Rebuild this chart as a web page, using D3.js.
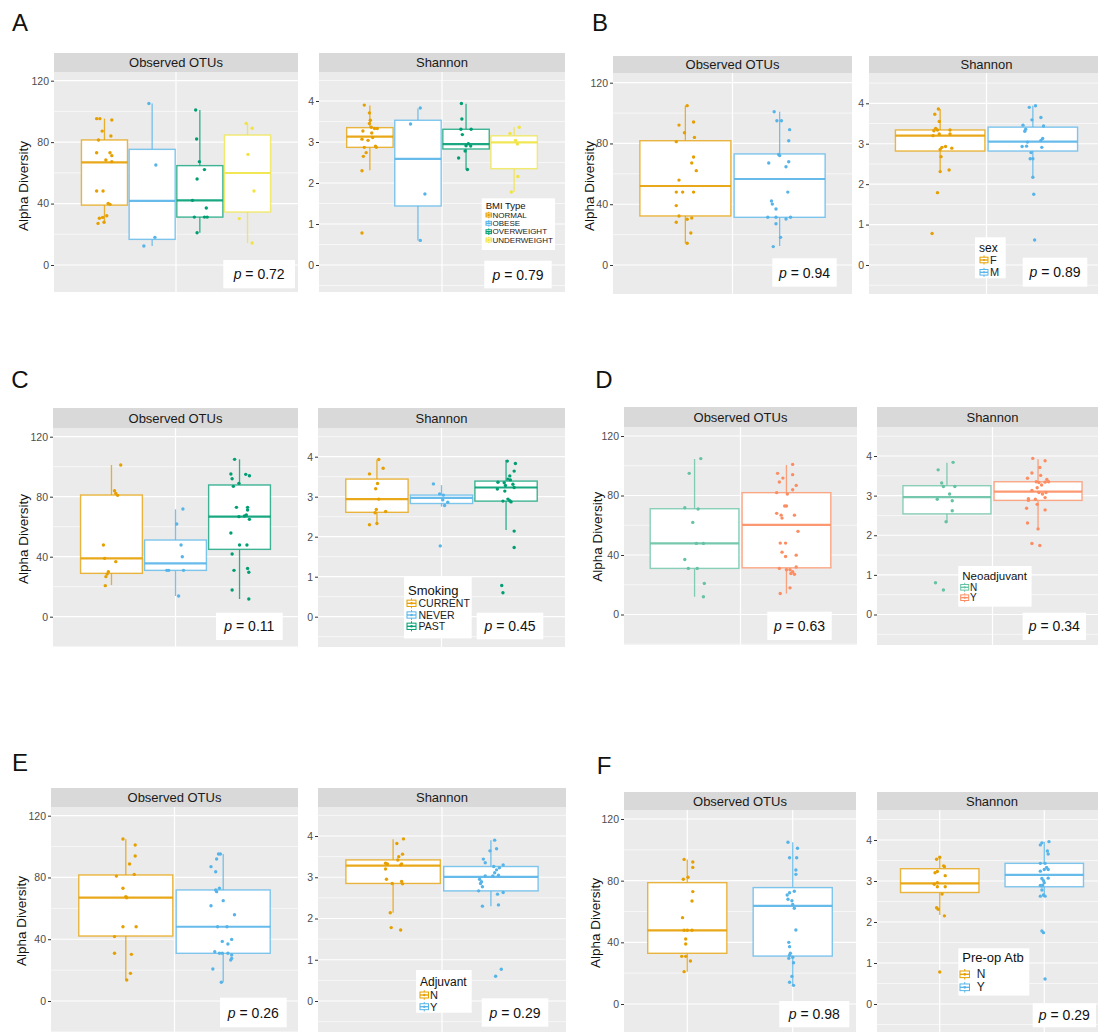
<!DOCTYPE html>
<html>
<head>
<meta charset="utf-8">
<script src="https://cdn.jsdelivr.net/npm/d3@7"></script>
<style>
  body { margin: 0; background: #fff; }
  svg { display: block; font-family: "Liberation Sans", Arial, sans-serif; }
</style>
</head>
<body>
<svg id="chart" width="1098" height="1032"></svg>
<script>
// ---------------- data ----------------
const metricNames = ["Observed OTUs", "Shannon"];
const otuTicks = [0, 40, 80, 120];
const otuMinor = [-20, 20, 60, 100];
const shannonTicks = [0, 1, 2, 3, 4];
const shannonMinor = [-0.5, 0.5, 1.5, 2.5, 3.5, 4.5];

// box stats: [lower whisker, Q1, median, Q3, upper whisker]
// points: [value, horizontal jitter as a fraction of box width]

// A: BMI type
const bmiGroups = ["NORMAL", "OBESE", "OVERWEIGHT", "UNDERWEIGHT"];
const bmiColors = ["#E69F00", "#56B4E9", "#009E73", "#F0E442"];
const bmiOtuBox = [[27.1, 39.0, 66.8, 81.4, 95.3], [12.4, 16.7, 41.7, 75.3, 105.2], [21.0, 31.2, 42.1, 64.7, 100.9], [14.3, 34.5, 59.9, 84.6, 92.2]];
const bmiShannonBox = [[2.31, 2.87, 3.13, 3.35, 3.89], [0.60, 1.44, 2.59, 3.53, 3.82], [2.33, 2.83, 2.95, 3.31, 3.93], [1.78, 2.35, 2.99, 3.15, 3.36]];
const bmiOtuPoints = [
  [[95.3,-0.17],[95.3,-0.10],[94.4,0.16],[87.2,-0.05],[84.0,0.14],[81.4,-0.13],[73.1,-0.17],[73.1,0.12],[71.2,0.16],[68.4,0.03],[67.3,0.16],[48.2,-0.17],[48.2,-0.03],[40.1,0.08],[39.5,0.12],[32.1,0.05],[31.0,-0.04],[30.4,-0.11],[27.8,-0.01],[27.1,-0.14]],
  [[105.2,-0.07],[65.1,0.08],[18.0,0.06],[12.4,-0.18]],
  [[100.9,-0.09],[82.0,-0.07],[67.3,-0.01],[62.1,0.10],[56.0,-0.06],[42.1,-0.16],[37.1,0.14],[31.2,-0.12],[31.2,0.10],[31.2,0.16],[21.0,-0.06]],
  [[92.2,-0.03],[89.0,0.10],[72.0,0.01],[48.2,0.14],[30.2,-0.18],[14.3,0.10]]
];
const bmiShannonPoints = [
  [[3.90,-0.12],[3.71,-0.01],[3.53,0.01],[3.45,-0.01],[3.36,0.03],[3.33,0.10],[3.33,0.16],[3.27,-0.15],[3.22,0.04],[3.11,0.06],[3.07,-0.17],[3.04,-0.04],[2.87,-0.12],[2.90,0.12],[2.87,0.14],[2.74,-0.08],[2.65,-0.14],[2.30,-0.17],[0.78,-0.17]],
  [[3.83,0.05],[3.44,-0.16],[1.73,0.15],[0.60,0.05]],
  [[3.94,-0.10],[3.56,-0.09],[3.31,-0.11],[3.31,0.11],[3.18,-0.08],[2.96,0.05],[2.91,0.00],[2.90,0.10],[2.78,-0.02],[2.61,-0.16],[2.33,0.03]],
  [[3.36,0.11],[3.21,-0.09],[3.04,0.03],[2.95,0.07],[2.16,0.08],[1.78,-0.06]]
];
const bmiP = ["0.72", "0.79"];

// B: sex
const sexGroups = ["F", "M"];
const sexColors = ["#E69F00", "#56B4E9"];
const sexOtuBox = [[14.3, 32.3, 52.0, 81.8, 104.9], [12.5, 31.4, 56.6, 73.1, 100.9]];
const sexShannonBox = [[2.31, 2.82, 3.20, 3.34, 3.86], [2.17, 2.82, 3.05, 3.41, 3.94]];
const sexOtuPoints = [
  [[104.9,0.02],[92.1,-0.07],[94.1,0.09],[87.1,-0.01],[84.0,0.10],[81.2,-0.10],[71.1,0.09],[67.1,0.07],[62.1,0.12],[55.9,-0.07],[48.0,-0.10],[48.0,-0.03],[48.0,0.09],[39.1,-0.10],[32.3,-0.07],[30.9,0.07],[30.1,0.02],[28.1,-0.10],[21.1,0.06],[14.3,0.02]],
  [[100.9,-0.06],[95.0,-0.03],[95.0,0.02],[89.1,0.11],[81.8,0.10],[72.8,-0.01],[72.0,0.00],[67.1,-0.12],[68.0,0.10],[64.7,0.07],[48.0,0.09],[42.1,-0.09],[40.1,-0.08],[36.9,-0.04],[31.4,-0.13],[31.4,-0.04],[31.4,0.12],[30.3,0.07],[27.2,-0.04],[18.2,0.01],[12.1,-0.07]]
];
const sexShannonPoints = [
  [[3.86,-0.02],[3.73,-0.06],[3.55,-0.01],[3.38,-0.05],[3.34,-0.03],[3.32,-0.07],[3.34,0.11],[3.24,-0.01],[3.20,-0.08],[3.24,0.11],[2.91,0.02],[2.93,0.06],[2.86,0.00],[2.89,0.13],[2.68,0.01],[2.31,0.00],[2.35,0.10],[1.79,-0.03],[0.78,-0.09]],
  [[3.90,-0.04],[3.94,0.03],[3.59,-0.01],[3.65,0.09],[3.46,-0.11],[3.44,0.12],[3.36,-0.08],[3.31,-0.09],[3.13,0.11],[3.08,0.09],[3.04,-0.06],[2.93,-0.12],[2.94,-0.07],[2.91,0.10],[2.78,-0.02],[2.63,0.00],[2.63,-0.03],[2.17,0.00],[1.75,0.01],[0.62,0.02]]
];
const sexP = ["0.94", "0.89"];

// C: smoking
const smokingGroups = ["CURRENT", "NEVER", "PAST"];
const smokingColors = ["#E69F00", "#56B4E9", "#009E73"];
const smokingOtuBox = [[21.1, 28.9, 38.9, 81.1, 101.1], [13.8, 30.9, 35.6, 51.1, 71.6], [11.8, 44.9, 66.7, 87.8, 104.9]];
const smokingShannonBox = [[2.32, 2.61, 2.94, 3.44, 3.93], [2.75, 2.83, 2.97, 3.04, 3.29], [2.17, 2.89, 3.23, 3.39, 3.92]];
const smokingOtuPoints = [
  [[101.1,0.15],[84.0,0.05],[82.2,0.07],[80.9,0.10],[47.8,-0.13],[38.9,-0.11],[36.7,0.07],[30.0,-0.05],[28.4,-0.07],[26.7,-0.09],[20.7,-0.10]],
  [[71.8,0.12],[61.8,0.02],[47.8,0.09],[40.0,0.11],[30.9,-0.14],[30.9,-0.11],[30.9,0.13],[13.8,0.05]],
  [[104.9,-0.08],[95.1,-0.14],[94.9,0.10],[94.0,0.16],[92.0,-0.12],[88.9,-0.01],[86.9,-0.10],[72.9,-0.05],[72.9,0.13],[71.1,0.13],[66.7,-0.01],[67.8,0.11],[67.1,0.08],[64.9,0.16],[55.8,-0.14],[47.8,0.00],[47.8,0.12],[41.8,-0.12],[32.2,0.13],[30.9,-0.09],[29.6,0.15],[17.8,-0.12],[11.8,0.15]]
];
const smokingShannonPoints = [
  [[3.93,0.03],[3.71,0.10],[3.57,-0.12],[3.33,0.01],[3.20,-0.02],[2.94,0.03],[2.68,-0.01],[2.60,-0.03],[2.63,0.14],[2.33,0.00],[2.30,-0.12]],
  [[3.32,-0.13],[3.07,-0.03],[3.04,0.03],[2.92,0.02],[2.86,0.10],[2.78,0.05],[1.77,-0.02]],
  [[3.89,0.02],[3.83,0.15],[3.64,0.13],[3.52,0.06],[3.44,0.03],[3.42,0.07],[3.36,-0.13],[3.35,-0.03],[3.31,0.11],[3.28,-0.01],[3.23,0.13],[3.19,-0.14],[3.14,-0.02],[2.89,-0.05],[2.94,0.03],[2.90,0.06],[2.87,0.08],[2.14,0.13],[1.73,0.13],[0.78,-0.07],[0.60,-0.05]]
];
const smokingP = ["0.11", "0.45"];

// D: neoadjuvant
const neoGroups = ["N", "Y"];
const neoColors = ["#66C2A5", "#FC8D62"];
const neoOtuBox = [[11.9, 31.0, 47.8, 71.1, 104.5], [14.1, 31.4, 60.3, 81.9, 100.5]];
const neoShannonBox = [[2.32, 2.54, 2.96, 3.25, 3.83], [2.16, 2.88, 3.10, 3.35, 3.92]];
const neoOtuPoints = [
  [[104.8,0.07],[94.9,-0.06],[71.8,-0.11],[70.9,0.04],[61.9,-0.02],[47.8,0.02],[47.8,0.10],[37.0,-0.11],[31.0,-0.07],[31.0,0.03],[20.9,0.11],[11.9,0.10]],
  [[100.9,0.07],[94.9,-0.10],[94.0,0.07],[91.7,-0.04],[86.8,0.11],[89.1,-0.08],[83.9,0.07],[81.9,-0.11],[81.0,0.01],[72.9,-0.02],[72.9,0.00],[68.0,-0.11],[66.8,-0.06],[64.8,-0.05],[66.8,0.09],[55.9,0.13],[48.0,-0.07],[48.0,-0.01],[41.9,-0.05],[39.0,-0.01],[39.9,0.11],[31.0,-0.08],[30.1,0.00],[31.9,0.11],[30.1,0.04],[28.7,0.07],[27.6,0.05],[27.1,0.09],[17.9,0.04],[14.1,-0.07]]
];
const neoShannonPoints = [
  [[3.84,0.07],[3.65,-0.10],[3.32,-0.06],[3.23,-0.04],[3.23,0.09],[3.04,0.03],[2.91,-0.11],[2.87,0.06],[2.62,0.06],[2.34,-0.01],[0.80,-0.13],[0.62,-0.04]],
  [[3.94,-0.06],[3.88,0.08],[3.71,0.02],[3.57,-0.07],[3.51,0.03],[3.44,-0.12],[3.41,0.10],[3.35,-0.02],[3.33,0.01],[3.34,0.08],[3.35,0.12],[3.27,0.04],[3.20,-0.01],[3.13,-0.07],[3.08,0.01],[3.08,0.09],[3.04,0.05],[2.95,0.08],[2.92,-0.11],[2.88,-0.11],[2.91,-0.03],[2.78,-0.01],[2.68,-0.13],[2.64,0.08],[2.31,-0.12],[2.16,0.00],[1.79,-0.07],[1.74,0.02]]
];
const neoP = ["0.63", "0.34"];

// E: adjuvant
const adjGroups = ["N", "Y"];
const adjColors = ["#E69F00", "#56B4E9"];
const adjOtuBox = [[13.6, 42.1, 66.9, 81.6, 104.7], [12.1, 30.9, 48.1, 71.9, 95.2]];
const adjShannonBox = [[2.14, 2.85, 3.28, 3.42, 3.92], [2.30, 2.67, 3.01, 3.26, 3.90]];
const adjOtuPoints = [
  [[104.9,-0.03],[101.0,0.10],[93.9,0.10],[88.7,0.04],[82.0,0.09],[80.9,-0.10],[73.0,-0.03],[67.6,0.00],[66.9,0.01],[48.1,-0.03],[48.1,0.11],[41.7,-0.12],[30.9,-0.12],[30.2,0.06],[17.9,0.05],[13.6,0.01]],
  [[95.2,-0.05],[95.2,-0.03],[92.0,-0.07],[87.0,-0.13],[83.7,-0.08],[73.0,-0.04],[71.9,-0.08],[70.8,-0.07],[65.0,0.00],[61.7,-0.13],[55.9,0.12],[48.1,-0.06],[48.1,0.04],[39.9,0.09],[38.6,-0.01],[36.9,0.05],[31.9,-0.09],[30.9,-0.04],[30.9,-0.01],[30.9,0.05],[29.8,0.09],[27.6,0.09],[26.5,0.08],[20.7,-0.11],[12.1,-0.02]]
];
const adjShannonPoints = [
  [[3.93,0.11],[3.82,0.04],[3.56,0.10],[3.50,0.06],[3.42,0.05],[3.34,-0.08],[3.32,-0.06],[3.30,0.08],[3.32,0.09],[3.20,-0.08],[2.95,-0.07],[2.90,0.09],[2.85,-0.01],[2.84,0.10],[2.14,-0.03],[1.78,-0.02],[1.72,0.08]],
  [[3.90,0.04],[3.69,0.06],[3.64,-0.01],[3.44,-0.08],[3.35,-0.06],[3.30,0.13],[3.26,0.03],[3.23,0.09],[3.18,0.06],[3.11,0.04],[3.03,-0.06],[3.03,0.02],[3.05,0.08],[2.95,-0.12],[2.89,-0.10],[2.85,-0.11],[2.77,-0.09],[2.67,-0.13],[2.63,0.13],[2.59,0.07],[2.33,0.08],[2.30,-0.09],[0.77,0.11],[0.60,0.05]]
];
const adjP = ["0.26", "0.29"];

// F: pre-operative antibiotics
const atbGroups = ["N", "Y"];
const atbColors = ["#E69F00", "#56B4E9"];
const atbOtuBox = [[21.0, 32.9, 47.8, 78.7, 93.8], [12.3, 31.1, 63.6, 75.5, 104.9]];
const atbShannonBox = [[2.17, 2.72, 2.94, 3.30, 3.58], [2.62, 2.86, 3.15, 3.43, 3.96]];
const atbOtuPoints = [
  [[93.8,-0.04],[92.1,0.07],[88.6,0.07],[80.9,-0.05],[82.2,0.01],[72.9,0.07],[66.8,0.06],[56.0,-0.06],[47.8,-0.04],[47.8,0.06],[47.8,0.00],[42.2,-0.02],[38.9,-0.02],[30.9,-0.07],[30.9,-0.02],[27.9,0.04],[21.0,-0.04]],
  [[104.9,-0.06],[101.0,0.06],[94.9,-0.04],[94.9,0.05],[86.9,0.04],[84.1,0.04],[73.1,0.02],[72.2,-0.04],[70.7,-0.07],[67.9,-0.06],[67.0,-0.01],[64.6,0.00],[62.1,0.02],[48.0,0.04],[40.0,-0.05],[37.2,-0.04],[32.9,-0.03],[31.6,-0.04],[30.3,0.00],[29.6,-0.05],[26.8,0.01],[17.9,-0.01],[14.1,-0.04],[12.1,0.01]]
];
const atbShannonPoints = [
  [[3.58,0.00],[3.53,-0.04],[3.35,0.06],[3.37,0.05],[3.20,-0.06],[3.23,-0.03],[3.13,0.07],[2.96,-0.03],[2.92,-0.07],[2.86,-0.03],[2.86,0.07],[2.68,0.03],[2.35,-0.04],[2.31,-0.02],[2.15,0.06],[0.78,0.00]],
  [[3.96,0.06],[3.88,-0.05],[3.93,-0.03],[3.73,0.04],[3.66,0.05],[3.43,-0.05],[3.43,0.01],[3.33,0.03],[3.28,0.05],[3.28,0.00],[3.24,-0.05],[3.07,0.05],[3.06,-0.03],[3.01,-0.01],[2.96,0.00],[2.90,-0.02],[2.88,-0.03],[2.89,-0.05],[2.78,-0.03],[2.66,-0.01],[2.63,-0.05],[2.63,0.01],[1.78,-0.03],[1.74,-0.01],[0.61,0.01]]
];
const atbP = ["0.98", "0.29"];

// ---------------- layout ----------------
const panels = [
  { letter: "A", letterPos: [20, 22], legendTitle: "BMI Type",
    groups: bmiGroups, colors: bmiColors, dodge: true,
    boxes: [bmiOtuBox, bmiShannonBox], points: [bmiOtuPoints, bmiShannonPoints], p: bmiP,
    stripTop: 53, plotTop: 72, bottom: 292, zero: 265, topTick: [80.7, 101],
    facets: [[54, 298], [319, 565]], yTitle: [23.5, 186],
    legend: { x: 481.7, y: 198.3, w: 73.3, h: 51.7, titleSize: 9.5, titleY: 205, size: 8, rows: [215, 223.3, 231.7, 240], keyX: 486, keySize: 5.5, textX: 492.5 },
    pBoxes: [[223.3, 260, 71.7, 28.3], [484.3, 260.7, 67.4, 27.6]] },
  { letter: "B", letterPos: [600, 22], legendTitle: "sex",
    groups: sexGroups, colors: sexColors, dodge: true,
    boxes: [sexOtuBox, sexShannonBox], points: [sexOtuPoints, sexShannonPoints], p: sexP,
    stripTop: 56, plotTop: 73, bottom: 294, zero: 265, topTick: [82.7, 103.3],
    facets: [[613, 852], [869, 1104]], yTitle: [589, 186],
    legend: { x: 975, y: 237.3, w: 30.7, h: 41, titleSize: 12, titleY: 248.3, size: 11, rows: [260, 272.3], keyX: 980, keySize: 8, textX: 990 },
    pBoxes: [[772.3, 258.3, 64.4, 28.4], [1022.7, 257.7, 64.6, 29]] },
  { letter: "C", letterPos: [20, 379], legendTitle: "Smoking",
    groups: smokingGroups, colors: smokingColors, dodge: true,
    boxes: [smokingOtuBox, smokingShannonBox], points: [smokingOtuPoints, smokingShannonPoints], p: smokingP,
    stripTop: 408, plotTop: 428, bottom: 647, zero: 616.7, topTick: [436.7, 456.7],
    facets: [[53, 298], [318, 565]], yTitle: [23, 539],
    legend: { x: 404, y: 576.7, w: 67.7, h: 61.7, titleSize: 13, titleY: 590, size: 10.5, rows: [603.3, 615, 626.3], keyX: 407, keySize: 9, textX: 418.5 },
    pBoxes: [[216, 612.7, 66.7, 27.3], [476.7, 612.7, 66.6, 26.6]] },
  { letter: "D", letterPos: [604, 379], legendTitle: "Neoadjuvant",
    groups: neoGroups, colors: neoColors, dodge: true,
    boxes: [neoOtuBox, neoShannonBox], points: [neoOtuPoints, neoShannonPoints], p: neoP,
    stripTop: 407, plotTop: 427, bottom: 645, zero: 614.5, topTick: [436, 456],
    facets: [[624, 857], [877, 1108]], yTitle: [597, 536.7],
    legend: { x: 958.3, y: 566, w: 73.3, h: 40.7, titleSize: 11.5, titleY: 576, size: 10, rows: [587.3, 597.7], keyX: 960.7, keySize: 8, textX: 970 },
    pBoxes: [[767.3, 611.7, 64.4, 28.3], [1022.7, 612.7, 63.3, 27.3]] },
  { letter: "E", letterPos: [20, 762], legendTitle: "Adjuvant",
    groups: adjGroups, colors: adjColors, dodge: true,
    boxes: [adjOtuBox, adjShannonBox], points: [adjOtuPoints, adjShannonPoints], p: adjP,
    stripTop: 788, plotTop: 807, bottom: 1032, zero: 1001, topTick: [815.7, 836],
    facets: [[51, 298], [318, 566]], yTitle: [21, 921],
    legend: { x: 416, y: 970, w: 55.7, h: 42.7, titleSize: 12, titleY: 982.3, size: 11, rows: [995, 1006.7], keyX: 420, keySize: 8.5, textX: 430 },
    pBoxes: [[220, 997.7, 66.7, 29.6], [481.7, 998.3, 66.6, 28.4]] },
  { letter: "F", letterPos: [604, 765], legendTitle: "Pre-op Atb",
    groups: atbGroups, colors: atbColors, dodge: false,
    boxes: [atbOtuBox, atbShannonBox], points: [atbOtuPoints, atbShannonPoints], p: atbP,
    stripTop: 792, plotTop: 810, bottom: 1032, zero: 1004, topTick: [819, 840],
    facets: [[624, 856], [877, 1107]], yTitle: [595, 923],
    legend: { x: 958.3, y: 948.3, w: 71, h: 47.3, titleSize: 13, titleY: 957, size: 12, rows: [974.3, 987.3], keyX: 960, keySize: 9.5, textX: 976.7 },
    pBoxes: [[779.3, 1001, 70, 26.3], [1032.7, 1003.3, 63.3, 24]] }
];

const metricTicks = [otuTicks, shannonTicks];
const metricMinor = [otuMinor, shannonMinor];
const metricTopValue = [120, 4];

// ---------------- drawing ----------------
const svg = d3.select("#chart");
svg.append("rect").attr("width", 1098).attr("height", 1032).attr("fill", "#fff");
const defs = svg.append("defs");
let clipId = 0;

function drawKey(g, x, cy, s, color) {
  const k = g.append("g");
  k.append("line").attr("x1", x + s / 2).attr("x2", x + s / 2)
    .attr("y1", cy - s / 2 - 0.5).attr("y2", cy + s / 2 + 0.5)
    .attr("stroke", color).attr("stroke-width", 1);
  k.append("rect").attr("x", x).attr("y", cy - s * 0.35).attr("width", s).attr("height", s * 0.7)
    .attr("fill", "#fff").attr("stroke", color).attr("stroke-width", 1);
  k.append("line").attr("x1", x).attr("x2", x + s).attr("y1", cy).attr("y2", cy)
    .attr("stroke", color).attr("stroke-width", 1.3);
  k.append("circle").attr("cx", x + s / 2).attr("cy", cy).attr("r", Math.max(1, s * 0.14)).attr("fill", color);
}

panels.forEach(P => {
  const root = svg.append("g");

  // panel letter
  root.append("text").attr("x", P.letterPos[0]).attr("y", P.letterPos[1])
    .attr("text-anchor", "middle").attr("dominant-baseline", "central")
    .attr("font-size", 24).attr("fill", "#111").text(P.letter);

  // y-axis title
  root.append("text")
    .attr("transform", `translate(${P.yTitle[0]},${P.yTitle[1]}) rotate(-90)`)
    .attr("text-anchor", "middle").attr("dominant-baseline", "central")
    .attr("font-size", 13.5).attr("fill", "#111").text("Alpha Diversity");

  metricNames.forEach((name, mi) => {
    const [l, r] = P.facets[mi];
    const w = r - l;
    const y = d3.scaleLinear().domain([0, metricTopValue[mi]]).range([P.zero, P.topTick[mi]]);
    const visible = v => y(v) >= P.plotTop && y(v) <= P.bottom;

    // horizontal placement of groups
    let centerOf, boxW, vLines;
    if (P.dodge) {
      const cx = (l + r) / 2;
      const total = 0.775 * w;
      const band = d3.scaleBand().domain(P.groups).range([cx - total / 2, cx + total / 2]).paddingInner(0.035);
      centerOf = g => band(g) + band.bandwidth() / 2;
      boxW = band.bandwidth();
      vLines = [cx];
    } else {
      const pt = d3.scalePoint().domain(P.groups).range([l, r]).padding(0.6);
      centerOf = g => pt(g);
      boxW = 0.75 * pt.step();
      vLines = P.groups.map(g => pt(g));
    }

    const id = "clip" + (clipId++);
    defs.append("clipPath").attr("id", id).append("rect")
      .attr("x", l).attr("y", P.plotTop).attr("width", w).attr("height", P.bottom - P.plotTop);
    const fg = root.append("g").attr("clip-path", `url(#${id})`);

    fg.append("rect").attr("x", l).attr("y", P.plotTop).attr("width", w)
      .attr("height", P.bottom - P.plotTop).attr("fill", "#EBEBEB");

    // grid
    fg.selectAll(null).data(metricMinor[mi].filter(visible)).join("line")
      .attr("x1", l).attr("x2", r).attr("y1", d => y(d)).attr("y2", d => y(d))
      .attr("stroke", "#fff").attr("stroke-width", 0.6);
    fg.selectAll(null).data(metricTicks[mi].filter(visible)).join("line")
      .attr("x1", l).attr("x2", r).attr("y1", d => y(d)).attr("y2", d => y(d))
      .attr("stroke", "#fff").attr("stroke-width", 1.2);
    fg.selectAll(null).data(vLines).join("line")
      .attr("x1", d => d).attr("x2", d => d).attr("y1", P.plotTop).attr("y2", P.bottom)
      .attr("stroke", "#fff").attr("stroke-width", 1.2);

    // boxes
    P.groups.forEach((g, gi) => {
      const s = P.boxes[mi][gi];
      const c = centerOf(g);
      const col = P.colors[gi];
      const bg = fg.append("g");
      bg.append("line").attr("x1", c).attr("x2", c).attr("y1", y(s[3])).attr("y2", y(s[4]))
        .attr("stroke", col).attr("stroke-width", 1.3).attr("stroke-opacity", 0.8);
      bg.append("line").attr("x1", c).attr("x2", c).attr("y1", y(s[1])).attr("y2", y(s[0]))
        .attr("stroke", col).attr("stroke-width", 1.3).attr("stroke-opacity", 0.8);
      bg.append("rect").attr("x", c - boxW / 2).attr("y", y(s[3]))
        .attr("width", boxW).attr("height", y(s[1]) - y(s[3]))
        .attr("fill", "#fff").attr("stroke", col).attr("stroke-width", 1.4).attr("stroke-opacity", 0.75);
      bg.append("line").attr("x1", c - boxW / 2).attr("x2", c + boxW / 2)
        .attr("y1", y(s[2])).attr("y2", y(s[2]))
        .attr("stroke", col).attr("stroke-width", 2.2).attr("stroke-opacity", 0.9);

      fg.append("g").selectAll("circle").data(P.points[mi][gi]).join("circle")
        .attr("cx", d => c + d[1] * boxW).attr("cy", d => y(d[0]))
        .attr("r", 1.7).attr("fill", col);
    });

    // strip
    root.append("rect").attr("x", l).attr("y", P.stripTop).attr("width", w)
      .attr("height", P.plotTop - P.stripTop).attr("fill", "#D9D9D9");
    root.append("text").attr("x", (l + r) / 2).attr("y", (P.stripTop + P.plotTop) / 2)
      .attr("text-anchor", "middle").attr("dominant-baseline", "central")
      .attr("font-size", 13).attr("fill", "#1A1A1A").text(name);

    // axis
    const ax = root.append("g").attr("transform", `translate(${l},0)`)
      .call(d3.axisLeft(y).tickValues(metricTicks[mi]).tickSize(3).tickPadding(2).tickFormat(d3.format("d")));
    ax.select(".domain").remove();
    ax.selectAll(".tick line").attr("stroke", "#333").attr("stroke-width", 1);
    ax.selectAll(".tick text").attr("fill", "#4D4D4D").attr("font-size", 10.5)
      .attr("font-family", "'Liberation Sans', Arial, sans-serif");

    // p-value label
    const pb = P.pBoxes[mi];
    root.append("rect").attr("x", pb[0]).attr("y", pb[1]).attr("width", pb[2]).attr("height", pb[3]).attr("fill", "#fff");
    const pt = root.append("text").attr("x", pb[0] + pb[2] / 2).attr("y", pb[1] + pb[3] / 2)
      .attr("text-anchor", "middle").attr("dominant-baseline", "central")
      .attr("font-size", 14).attr("fill", "#111");
    pt.append("tspan").attr("font-style", "italic").text("p");
    pt.append("tspan").text(" = " + P.p[mi]);
  });

  // legend
  const L = P.legend;
  const lg = root.append("g");
  lg.append("rect").attr("x", L.x).attr("y", L.y).attr("width", L.w).attr("height", L.h).attr("fill", "#fff");
  lg.append("text").attr("x", L.x + 4).attr("y", L.titleY).attr("dominant-baseline", "central")
    .attr("font-size", L.titleSize).attr("fill", "#111").text(P.legendTitle);
  P.groups.forEach((g, gi) => {
    drawKey(lg, L.keyX, L.rows[gi], L.keySize, P.colors[gi]);
    lg.append("text").attr("x", L.textX).attr("y", L.rows[gi]).attr("dominant-baseline", "central")
      .attr("font-size", L.size).attr("fill", "#222").text(g);
  });
});
</script>
</body>
</html>
